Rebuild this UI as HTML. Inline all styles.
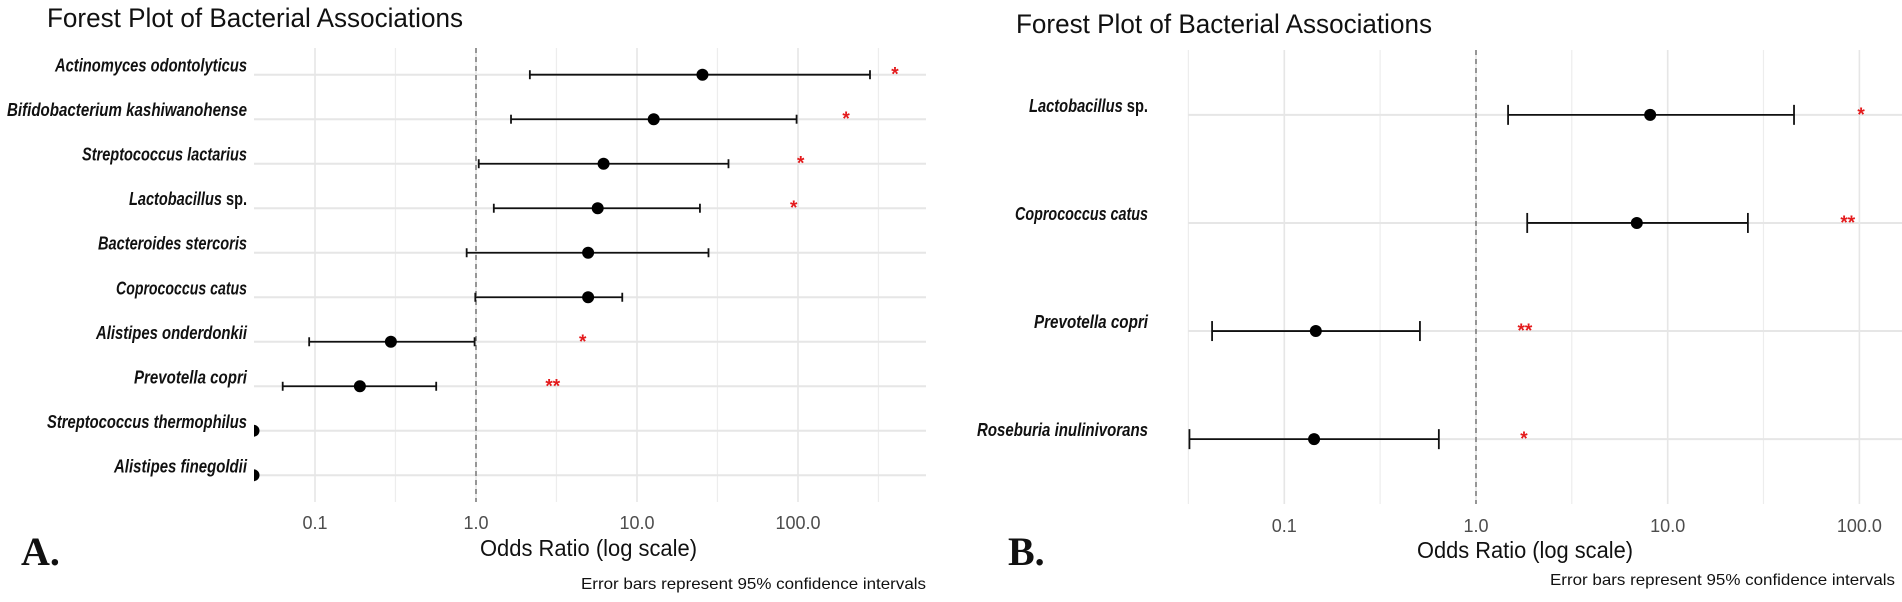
<!DOCTYPE html>
<html><head><meta charset="utf-8"><style>
html,body{margin:0;padding:0;background:#fff;}
svg{display:block;font-family:"Liberation Sans",sans-serif;}
</style></head><body>
<svg id="chart" width="1902" height="602" viewBox="0 0 1902 602">
<g id="pa"></g>
<g id="pb"></g>
</svg>
<script>
// Panel A data
const catsA = ["Actinomyces odontolyticus","Bifidobacterium kashiwanohense","Streptococcus lactarius","Lactobacillus sp.","Bacteroides stercoris","Coprococcus catus","Alistipes onderdonkii","Prevotella copri","Streptococcus thermophilus","Alistipes finegoldii"];
const orA  = [25.5, 12.7, 6.2, 5.7, 4.97, 4.97, 0.296, 0.19, 0.0415, 0.0415];
const loA  = [2.16, 1.65, 1.04, 1.29, 0.875, 0.99, 0.092, 0.063, null, null];
const hiA  = [280, 98, 37, 24.6, 27.8, 8.1, 0.98, 0.566, null, null];
const sigA = ["*","*","*","*","","","*","**","",""];
const sigPosA = [400, 199, 104, 94, null, null, 4.6, 3.0, null, null];
// Panel B data
const catsB = ["Lactobacillus sp.","Coprococcus catus","Prevotella copri","Roseburia inulinivorans"];
const orB  = [8.1, 6.9, 0.146, 0.143];
const loB  = [1.47, 1.85, 0.042, 0.032];
const hiB  = [45.6, 26.2, 0.51, 0.64];
const sigB = ["*","**","**","*"];
const sigPosB = [102, 87, 1.8, 1.78];
const tickVals = [0.1, 1, 10, 100];
const tickLabels = ["0.1","1.0","10.0","100.0"];
const minorVals = [0.0316, 0.316, 3.16, 31.6, 316];

const NS="http://www.w3.org/2000/svg";
function mk(tag, attrs, parent){const e=document.createElementNS(NS,tag);for(const k in attrs)e.setAttribute(k,attrs[k]);parent.appendChild(e);return e;}

function panel(g, cfg, cats, ors, los, his, sigs, sigPos){
  const x = v => cfg.x1 + cfg.dec*Math.log10(v);
  const step = (cfg.bottom-cfg.top)/((cats.length-1)+1.2);
  const y = i => cfg.top + step*0.6 + step*i;
  const clipId = cfg.id+"clip";
  const cp = mk("clipPath",{id:clipId},g);
  mk("rect",{x:cfg.left,y:cfg.top,width:cfg.right-cfg.left,height:cfg.bottom-cfg.top},cp);
  // minor vertical grid
  minorVals.forEach(v=>{const xx=x(v); if(xx<cfg.left-1||xx>cfg.right)return;
    const l=mk("line",{x1:xx,x2:xx,y1:cfg.top,y2:cfg.bottom,stroke:"#ededed","stroke-width":1.2},g);
    
    });
  tickVals.forEach((v,i)=>{const xx=x(v);
    const l=mk("line",{x1:xx,x2:xx,y1:cfg.top,y2:cfg.bottom,stroke:"#e6e6e6","stroke-width":1.6},g);
    
    
    const t=mk("text",{x:xx,y:cfg.tickY,"text-anchor":"middle","font-size":18,fill:"#4d4d4d"},g);
    t.textContent=tickLabels[i];
    
    });
  cats.forEach((c,i)=>{const yy=y(i);
    const l=mk("line",{x1:cfg.left,x2:cfg.right,y1:yy,y2:yy,stroke:"#e6e6e6","stroke-width":2},g);
    
    });
  // dashed ref line
  const ref=mk("line",{x1:x(1),x2:x(1),y1:cfg.top,y2:cfg.bottom,stroke:"#666","stroke-width":1.3,"stroke-dasharray":"5,4"},g);
  
  
  const marks=mk("g",{"clip-path":"url(#"+clipId+")"},g);
  cats.forEach((c,i)=>{const yy=y(i);
    // label
    const t=mk("text",{x:cfg.labelX,y:yy-3,"text-anchor":"end","font-size":18,"font-weight":"bold","font-style":"italic",fill:"#111"},g);
    const w=cfg.labelW[i];
    t.setAttribute("textLength",w); t.setAttribute("lengthAdjust","spacingAndGlyphs");
    if(c.endsWith(" sp.")){t.textContent=c.slice(0,-4);const ts=mk("tspan",{"font-style":"normal"},t);ts.textContent=" sp.";}
    else t.textContent=c;
    
    
    if(los[i]!=null){
      const eb=mk("g",{stroke:"#111","stroke-width":1.8},marks);
      
      
      mk("line",{x1:x(los[i]),x2:x(his[i]),y1:yy,y2:yy},eb);
      mk("line",{x1:x(los[i]),x2:x(los[i]),y1:yy-cfg.cap,y2:yy+cfg.cap},eb);
      mk("line",{x1:x(his[i]),x2:x(his[i]),y1:yy-cfg.cap,y2:yy+cfg.cap},eb);
    }
    const p=mk("circle",{cx:x(ors[i]),cy:yy,r:cfg.r,fill:"#000"},marks);
    
    
    if(sigs[i]){
      const s=mk("text",{x:x(sigPos[i]),y:yy+6,"text-anchor":"middle","font-size":19,"font-weight":"bold",fill:"#e41a1c"},g);
      s.textContent=sigs[i];
      
      
    }
  });
  const tt=mk("text",{x:cfg.titleX,y:cfg.titleY,"font-size":27,fill:"#111",textLength:cfg.titleW,lengthAdjust:"spacingAndGlyphs"},g);
  tt.textContent="Forest Plot of Bacterial Associations";
  
  
  const at=mk("text",{x:cfg.axX,y:cfg.axY,"font-size":23,fill:"#111",textLength:cfg.axW,lengthAdjust:"spacingAndGlyphs"},g);
  at.textContent="Odds Ratio (log scale)";
  
  
  const cap=mk("text",{x:cfg.capX,y:cfg.capY,"font-size":16,fill:"#111",textLength:cfg.capW,lengthAdjust:"spacingAndGlyphs"},g);
  cap.textContent="Error bars represent 95% confidence intervals";
  
  
  const pl=mk("text",{x:cfg.plX,y:cfg.plY,"font-size":40,"font-weight":"bold","font-family":"Liberation Serif, serif",fill:"#111"},g);
  pl.textContent=cfg.plText;
  
  
}
panel(document.getElementById("pa"),{id:"a",x1:476,dec:161,left:254,right:926,top:48,bottom:502,tickY:529,labelX:247,
  labelW:[192,240,165,118,149,131,151,113,200,133],cap:4.5,r:6,
  titleX:47,titleY:27,titleW:416,axX:480,axY:556,axW:217,capX:581,capY:589,capW:345,plX:21,plY:565,plText:"A."},
  catsA,orA,loA,hiA,sigA,sigPosA);
panel(document.getElementById("pb"),{id:"b",x1:1476,dec:191.7,left:1188,right:1902,top:50,bottom:504,tickY:532,labelX:1148,
  labelW:[119,133,114,171],cap:10,r:6,
  titleX:1016,titleY:33,titleW:416,axX:1417,axY:558,axW:216,capX:1550,capY:585,capW:345,plX:1008,plY:565,plText:"B."},
  catsB,orB,loB,hiB,sigB,sigPosB);
</script>
</body></html>
